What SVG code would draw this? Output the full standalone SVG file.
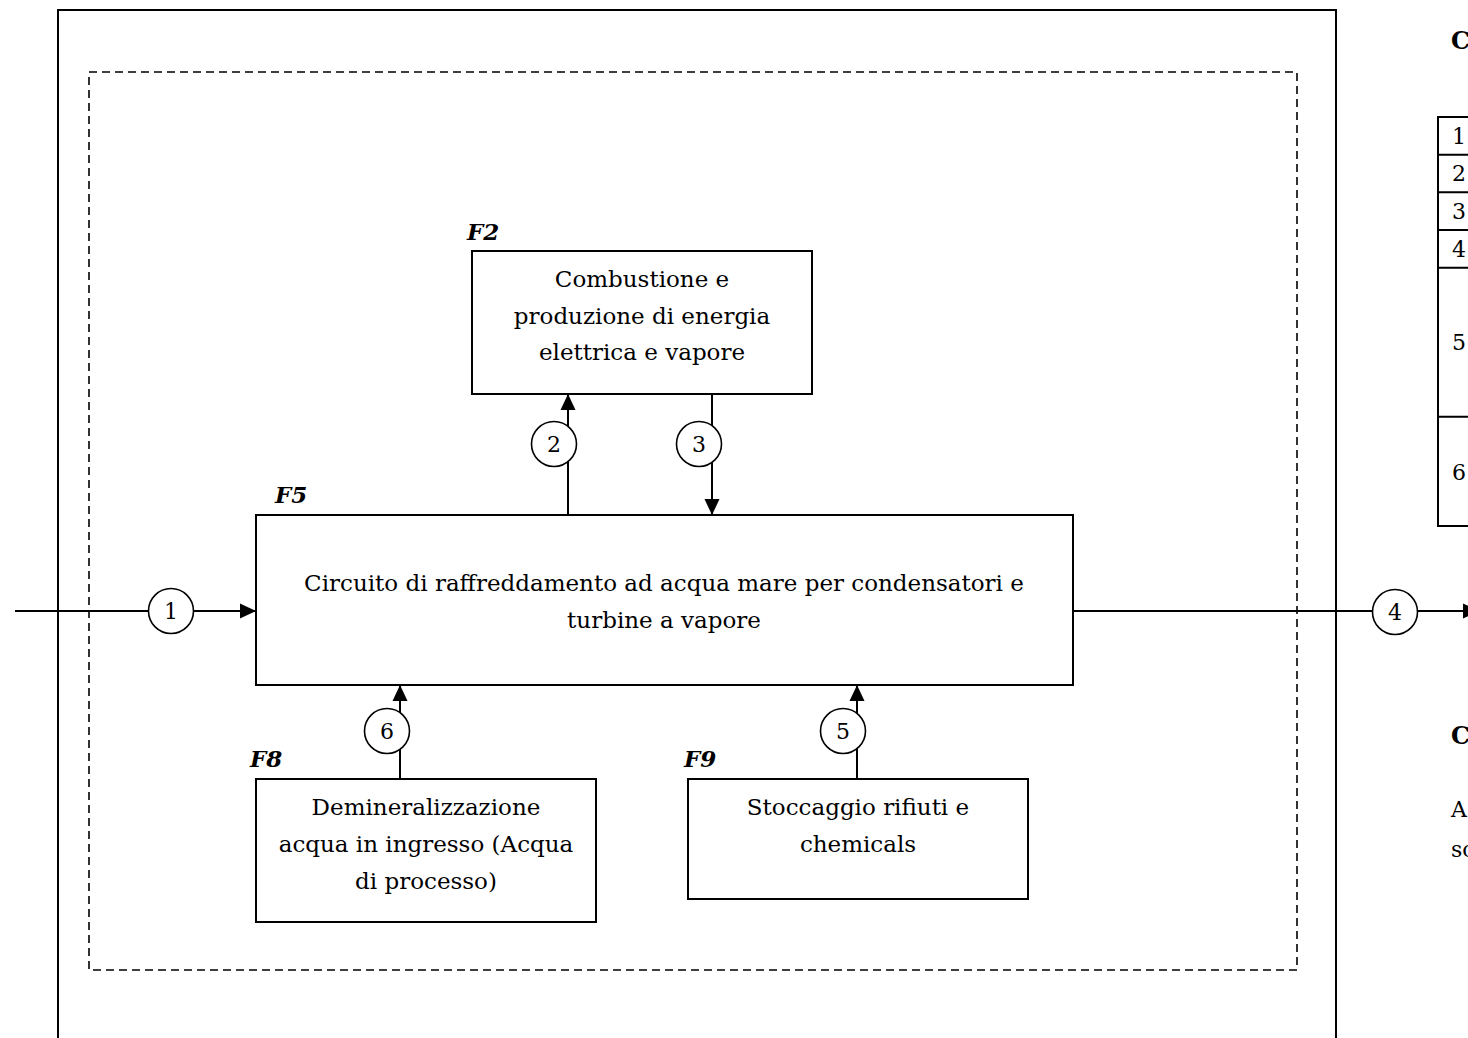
<svg xmlns="http://www.w3.org/2000/svg" width="1468" height="1038" viewBox="0 0 1468 1038">
<style>
.box{fill:#fff;stroke:#000;stroke-width:2}
.frame{fill:none;stroke:#000;stroke-width:2}
.dash{fill:none;stroke:#000;stroke-width:1.6;stroke-dasharray:8 5}
.t{font-family:"DejaVu Serif","Liberation Serif",serif;font-size:23px;fill:#000;text-anchor:middle}
.lbl{font-family:"DejaVu Serif","Liberation Serif",serif;font-size:23px;font-weight:bold;font-style:italic;fill:#000}
.num{font-family:"DejaVu Serif","Liberation Serif",serif;font-size:22px;fill:#000;text-anchor:middle}
.side{font-family:"DejaVu Serif","Liberation Serif",serif;font-size:22px;fill:#000}
.sideb{font-family:"DejaVu Serif","Liberation Serif",serif;font-size:24px;font-weight:bold;fill:#000}
.conn{fill:none;stroke:#000;stroke-width:2}
.circ{fill:#fff;stroke:#000;stroke-width:1.6}
.tbl{fill:none;stroke:#000;stroke-width:2}
</style>
<defs>
<marker id="arr" markerUnits="userSpaceOnUse" markerWidth="16" markerHeight="16" viewBox="0 0 16 16" refX="16" refY="8" orient="auto">
<path d="M0,0.5 L16,8 L0,15.5 Z" fill="#000"/>
</marker>
</defs>
<rect width="1468" height="1038" fill="#fff"/>
<g id="frame">
<path class="frame" d="M58,1045 V10 H1336 V1045"/>
<rect class="dash" x="89" y="72" width="1208" height="898"/>
</g>
<g id="connectors">
<line class="conn" x1="15" y1="611" x2="256" y2="611" marker-end="url(#arr)"/>
<line class="conn" x1="1073" y1="611" x2="1479" y2="611" marker-end="url(#arr)"/>
<line class="conn" x1="568" y1="515" x2="568" y2="394" marker-end="url(#arr)"/>
<line class="conn" x1="712" y1="394" x2="712" y2="515" marker-end="url(#arr)"/>
<line class="conn" x1="400" y1="778" x2="400" y2="685" marker-end="url(#arr)"/>
<line class="conn" x1="857" y1="778" x2="857" y2="685" marker-end="url(#arr)"/>
<g id="c1"><circle class="circ" cx="171" cy="611" r="22.5"/><text class="num" x="171" y="619">1</text></g>
<g id="c4"><circle class="circ" cx="1395" cy="612" r="22.5"/><text class="num" x="1395" y="620">4</text></g>
<g id="c2"><circle class="circ" cx="554" cy="444" r="22.5"/><text class="num" x="554" y="452">2</text></g>
<g id="c3"><circle class="circ" cx="699" cy="444" r="22.5"/><text class="num" x="699" y="452">3</text></g>
<g id="c6"><circle class="circ" cx="387" cy="731" r="22.5"/><text class="num" x="387" y="739">6</text></g>
<g id="c5"><circle class="circ" cx="843" cy="731" r="22.5"/><text class="num" x="843" y="739">5</text></g>
</g>
<g id="F2">
<rect class="box" x="472" y="251" width="340" height="143"/>
<text class="lbl" x="467" y="240">F2</text>
<text class="t" x="642" y="287">Combustione e</text>
<text class="t" x="642" y="324">produzione di energia</text>
<text class="t" x="642" y="360">elettrica e vapore</text>
</g>
<g id="F5">
<rect class="box" x="256" y="515" width="817" height="170"/>
<text class="lbl" x="275" y="503">F5</text>
<text class="t" x="664" y="591">Circuito di raffreddamento ad acqua mare per condensatori e</text>
<text class="t" x="664" y="628">turbine a vapore</text>
</g>
<g id="F8">
<rect class="box" x="256" y="779" width="340" height="143"/>
<text class="lbl" x="250" y="767">F8</text>
<text class="t" x="426" y="815">Demineralizzazione</text>
<text class="t" x="426" y="852">acqua in ingresso (Acqua</text>
<text class="t" x="426" y="889">di processo)</text>
</g>
<g id="F9">
<rect class="box" x="688" y="779" width="340" height="120"/>
<text class="lbl" x="684" y="767">F9</text>
<text class="t" x="858" y="815">Stoccaggio rifiuti e</text>
<text class="t" x="858" y="852">chemicals</text>
</g>
<g id="side">
<text class="sideb" x="1451" y="49">C</text>
<path class="tbl" d="M1468,117 H1438 V526 H1468 M1438,154.7 H1468 M1438,192.3 H1468 M1438,230 H1468 M1438,267.7 H1468 M1438,416.7 H1468"/>
<text class="side" x="1452" y="144">1</text>
<text class="side" x="1452" y="181">2</text>
<text class="side" x="1452" y="219">3</text>
<text class="side" x="1452" y="257">4</text>
<text class="side" x="1452" y="350">5</text>
<text class="side" x="1452" y="480">6</text>
<text class="sideb" x="1451" y="744">C</text>
<text class="side" x="1451" y="817">A</text>
<text class="side" x="1451" y="857">sc</text>
</g>
</svg>
